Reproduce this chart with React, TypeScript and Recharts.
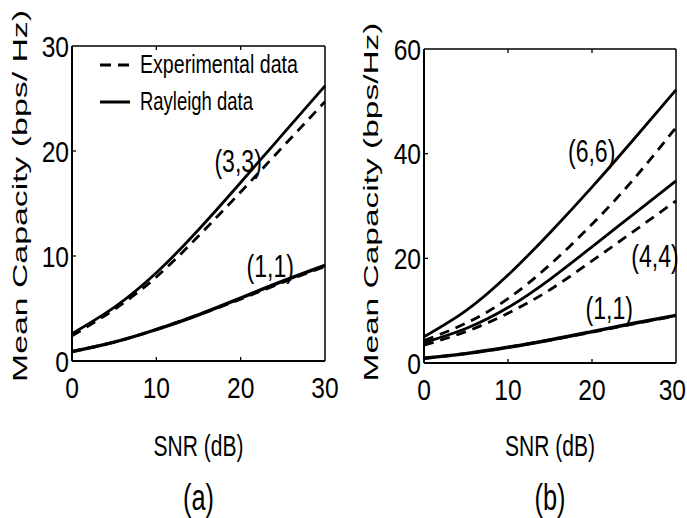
import React from 'react';
import { LineChart, Line, XAxis, YAxis, ReferenceDot, Legend } from 'recharts';

// ---------- data ----------
const SNR_DB = [0, 5, 10, 15, 20, 25, 30];

// panel (a)
const A_EXP_33 = [2.4, 4.9, 8.0, 11.9, 16.1, 20.4, 24.7];
const A_RAY_33 = [2.6, 5.1, 8.4, 12.5, 17.0, 21.6, 26.2];
const A_EXP_11 = [0.9, 1.8, 3.0, 4.4, 5.9, 7.5, 9.0];
const A_RAY_11 = [0.9, 1.8, 3.0, 4.4, 6.0, 7.6, 9.1];

// panel (b)
const B_EXP_66 = [4.3, 7.6, 12.3, 18.8, 26.5, 35.2, 45.0];
const B_RAY_66 = [5.0, 10.0, 16.8, 24.9, 33.6, 42.8, 52.2];
const B_EXP_44 = [3.4, 6.0, 9.5, 14.0, 19.5, 25.2, 31.0];
const B_RAY_44 = [3.9, 6.6, 10.6, 16.0, 22.2, 28.5, 34.8];
const B_EXP_11 = [0.9, 1.8, 3.0, 4.4, 5.9, 7.5, 9.0];
const B_RAY_11 = [0.9, 1.8, 3.0, 4.4, 6.0, 7.6, 9.1];

const X_TICKS = [0, 10, 20, 30];
const A_Y_TICKS = [0, 10, 20, 30];
const B_Y_TICKS = [0, 20, 40, 60];

const LEGEND_ITEMS = [
  { label: 'Experimental data', dashed: true },
  { label: 'Rayleigh data', dashed: false },
];

const A_NOTES = [
  { txt: '(3,3)', snr: 19.7, cap: 18.0 },
  { txt: '(1,1)', snr: 23.5, cap: 8.0 },
];
const B_NOTES = [
  { txt: '(6,6)', snr: 19.96, cap: 38.5 },
  { txt: '(4,4)', snr: 27.5, cap: 18.4 },
  { txt: '(1,1)', snr: 22.05, cap: 8.5 },
];

const dataA = SNR_DB.map((s, i) => ({
  snr: s, exp33: A_EXP_33[i], ray33: A_RAY_33[i], exp11: A_EXP_11[i], ray11: A_RAY_11[i],
}));
const dataB = SNR_DB.map((s, i) => ({
  snr: s, exp66: B_EXP_66[i], ray66: B_RAY_66[i], exp44: B_EXP_44[i], ray44: B_RAY_44[i],
  exp11: B_EXP_11[i], ray11: B_RAY_11[i],
}));

// ---------- text helpers ----------
const FONT = "'Liberation Sans', Arial, Helvetica, sans-serif";
// narrow target widths (em)
const NW: Record<string, number> = { '(': 0.2, ')': 0.2, ',': 0.17, ' ': 0.2 };
const nlen = (s: string, size: number) =>
  s.split('').reduce((a, c) => a + (NW[c] !== undefined ? NW[c] : 0.456), 0) * size;
// natural Arial / Liberation Sans widths (em)
const AW: Record<string, number> = {
  '(': 0.333, ')': 0.333, ',': 0.278, ' ': 0.278, S: 0.667, N: 0.722, R: 0.722, B: 0.667, E: 0.667,
  d: 0.556, a: 0.556, b: 0.556, x: 0.5, p: 0.556, e: 0.556, r: 0.333, i: 0.222, m: 0.833, n: 0.556,
  t: 0.278, l: 0.222, y: 0.5, g: 0.556, h: 0.556,
};
const alen = (s: string, size: number) =>
  s.split('').reduce((a, c) => a + (AW[c] !== undefined ? AW[c] : 0.556), 0) * size;

const NText = ({ x, y, anchor, size, children, len }: any) => {
  const s = String(children);
  const target = len !== undefined ? len : nlen(s, size);
  const sx = target / alen(s, size);
  return (
    <text
      x={0}
      y={0}
      transform={`translate(${x} ${y}) scale(${sx.toFixed(4)} 1)`}
      textAnchor={anchor}
      fontFamily={FONT}
      fontSize={size}
      fill="#000"
    >
      {s}
    </text>
  );
};

const DASH = '10 7';

// ---------- ticks ----------
const makeBottomTick = (lo: number, hi: number, maxRight: number) => (p: any) => {
  const v = p.payload.value;
  const half = nlen(String(v), 30) / 2;
  const lx = Math.min(p.x, maxRight - half);
  return (
    <g>
      {v > lo && v < hi && <line x1={p.x} y1={p.y} x2={p.x} y2={p.y - 4} stroke="#000" strokeWidth={1.3} />}
      <NText x={lx} y={p.y + 37} anchor="middle" size={30}>{String(v)}</NText>
    </g>
  );
};
const makeLeftTick = (lo: number, hi: number) => (p: any) => {
  const v = p.payload.value;
  return (
    <g>
      {v > lo && v < hi && <line x1={p.x} y1={p.y} x2={p.x + 4} y2={p.y} stroke="#000" strokeWidth={1.3} />}
      <NText x={p.x - 3} y={p.y + 10.5} anchor="end" size={30}>{String(v)}</NText>
    </g>
  );
};
const makeTopTick = (lo: number, hi: number) => (p: any) => {
  const v = p.payload.value;
  return <g>{v > lo && v < hi && <line x1={p.x} y1={p.y} x2={p.x} y2={p.y + 4} stroke="#000" strokeWidth={1.3} />}</g>;
};
const makeRightTick = (lo: number, hi: number) => (p: any) => {
  const v = p.payload.value;
  return <g>{v > lo && v < hi && <line x1={p.x} y1={p.y} x2={p.x - 4} y2={p.y} stroke="#000" strokeWidth={1.3} />}</g>;
};

// ---------- labels ----------
const YTitle = ({ bx, by, tlen, caption }: any) => (
  <text
    x={bx}
    y={by}
    transform={`rotate(-90 ${bx} ${by})`}
    textAnchor="middle"
    fontFamily={FONT}
    fontSize={21}
    fill="#000"
    textLength={tlen}
    lengthAdjust="spacingAndGlyphs"
  >
    {caption}
  </text>
);

const XTitle = ({ bx, panel }: any) => (
  <g>
    <NText x={bx} y={456} anchor="middle" size={30} len={90}>SNR (dB)</NText>
    <NText x={bx} y={510} anchor="middle" size={37} len={31}>{panel}</NText>
  </g>
);

const Note = ({ viewBox, txt }: any) => {
  const cx = viewBox.x + (viewBox.width || 0) / 2;
  const cy = viewBox.y + (viewBox.height || 0) / 2;
  return <NText x={cx} y={cy} anchor="middle" size={32}>{txt}</NText>;
};

const LegendBox = () => (
  <svg width={340} height={130} style={{ display: 'block' }}>
    {LEGEND_ITEMS.map((it, i) => {
      const ly = 65 + i * 37;
      return (
        <g key={it.label}>
          <line x1={100} y1={ly} x2={130} y2={ly} stroke="#000" strokeWidth={3}
            strokeDasharray={it.dashed ? '11 7' : undefined} />
          <NText x={140} y={ly + 8} anchor="start" size={25} len={it.dashed ? 158 : 113}>{it.label}</NText>
        </g>
      );
    })}
  </svg>
);

const lineProps = {
  xAxisId: 'bottom',
  yAxisId: 'left',
  type: 'natural' as const,
  stroke: '#000',
  dot: false,
  isAnimationActive: false,
  activeDot: false,
};

const axisLine = { stroke: '#000', strokeWidth: 2 };
const thinLine = { stroke: '#000', strokeWidth: 1.5 };

export default function App() {
  return (
    <div style={{ position: 'absolute', left: 0, top: 0, width: 687, height: 518, background: '#fff' }}>
      {/* panel (a) */}
      <div style={{ position: 'absolute', left: 0, top: 0 }}>
        <LineChart width={355} height={518} data={dataA} margin={{ top: 45, right: 29, bottom: 156, left: 71 }}>
          <XAxis xAxisId="bottom" type="number" dataKey="snr" domain={[0, 30]} ticks={X_TICKS}
            height={1} tickSize={0} tickMargin={0} tickLine={false} axisLine={axisLine}
            tick={makeBottomTick(0, 30, 354)} interval={0}
            label={<XTitle bx={198.5} panel="(a)" />} />
          <XAxis xAxisId="top" orientation="top" type="number" dataKey="snr" domain={[0, 30]} ticks={X_TICKS}
            height={1} tickSize={0} tickMargin={0} tickLine={false} axisLine={thinLine}
            tick={makeTopTick(0, 30)} interval={0} />
          <YAxis yAxisId="left" type="number" domain={[0, 30]} ticks={A_Y_TICKS} width={1}
            tickSize={0} tickMargin={0} tickLine={false} axisLine={axisLine}
            tick={makeLeftTick(0, 30)} interval={0}
            label={<YTitle bx={27} by={196} tlen={372} caption="Mean Capacity (bps/ Hz)" />} />
          <YAxis yAxisId="right" orientation="right" type="number" domain={[0, 30]} ticks={A_Y_TICKS} width={1}
            tickSize={0} tickMargin={0} tickLine={false} axisLine={thinLine}
            tick={makeRightTick(0, 30)} interval={0} />
          <Legend layout="vertical" align="center" verticalAlign="middle"
            wrapperStyle={{ left: 0, top: 0, width: 340, height: 130 }} content={() => <LegendBox />} />
          <Line {...lineProps} dataKey="exp33" strokeWidth={2.8} strokeDasharray={DASH} />
          <Line {...lineProps} dataKey="ray33" strokeWidth={2.8} />
          <Line {...lineProps} dataKey="exp11" strokeWidth={3} strokeDasharray={DASH} />
          <Line {...lineProps} dataKey="ray11" strokeWidth={3.4} />
          {A_NOTES.map((n) => (
            <ReferenceDot key={n.txt} xAxisId="bottom" yAxisId="left" x={n.snr} y={n.cap} r={1}
              fill="none" stroke="none" label={<Note txt={n.txt} />} />
          ))}
        </LineChart>
      </div>

      {/* panel (b) */}
      <div style={{ position: 'absolute', left: 340, top: 0 }}>
        <LineChart width={347} height={518} data={dataB} margin={{ top: 48, right: 10, bottom: 154, left: 83 }}>
          <XAxis xAxisId="bottom" type="number" dataKey="snr" domain={[0, 30]} ticks={X_TICKS}
            height={1} tickSize={0} tickMargin={0} tickLine={false} axisLine={axisLine}
            tick={makeBottomTick(0, 30, 346)} interval={0}
            label={<XTitle bx={210} panel="(b)" />} />
          <XAxis xAxisId="top" orientation="top" type="number" dataKey="snr" domain={[0, 30]} ticks={X_TICKS}
            height={1} tickSize={0} tickMargin={0} tickLine={false} axisLine={thinLine}
            tick={makeTopTick(0, 30)} interval={0} />
          <YAxis yAxisId="left" type="number" domain={[0, 60]} ticks={B_Y_TICKS} width={1}
            tickSize={0} tickMargin={0} tickLine={false} axisLine={axisLine}
            tick={makeLeftTick(0, 60)} interval={0}
            label={<YTitle bx={38} by={202} tlen={359} caption="Mean Capacity (bps/Hz)" />} />
          <YAxis yAxisId="right" orientation="right" type="number" domain={[0, 60]} ticks={B_Y_TICKS} width={1}
            tickSize={0} tickMargin={0} tickLine={false} axisLine={thinLine}
            tick={makeRightTick(0, 60)} interval={0} />
          <Line {...lineProps} dataKey="exp66" strokeWidth={2.8} strokeDasharray={DASH} />
          <Line {...lineProps} dataKey="ray66" strokeWidth={2.8} />
          <Line {...lineProps} dataKey="exp44" strokeWidth={2.8} strokeDasharray={DASH} />
          <Line {...lineProps} dataKey="ray44" strokeWidth={2.8} />
          <Line {...lineProps} dataKey="exp11" strokeWidth={3} strokeDasharray={DASH} />
          <Line {...lineProps} dataKey="ray11" strokeWidth={3.4} />
          {B_NOTES.map((n) => (
            <ReferenceDot key={n.txt} xAxisId="bottom" yAxisId="left" x={n.snr} y={n.cap} r={1}
              fill="none" stroke="none" label={<Note txt={n.txt} />} />
          ))}
        </LineChart>
      </div>
    </div>
  );
}
